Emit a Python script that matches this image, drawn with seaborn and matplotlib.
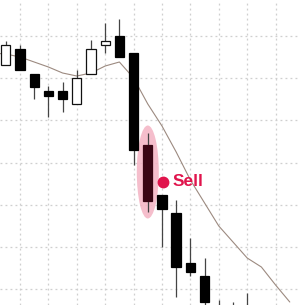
import matplotlib
matplotlib.use("Agg")
import matplotlib.pyplot as plt
from matplotlib.patches import Ellipse
import seaborn as sns
import pandas as pd
import numpy as np

# ---- data (price units, higher = up) ----
idx    = [0, 1, 2, 3, 4, 5, 6, 7, 8, 9, 10, 11, 12, 13, 14, 15, 16, 17, 18, 19]
opens  = [240, 256, 231, 214, 214, 201, 231, 260, 269, 252, 160, 110, 92, 42, 29, -2, -3, -5, -30, -50]
highs  = [264, 260, 231, 219, 223, 235, 265, 282, 286, 252, 172, 110, 105, 67, 47, 5, 3, 12, -20, -40]
lows   = [240, 235, 206, 188, 193, 201, 231, 252, 248, 140, 93, 58, 8, 29, 0, -25, -25, -35, -60, -80]
closes = [260, 235, 218, 209, 206, 227, 256, 264, 248, 155, 104, 96, 38, 33, 3, -20, -15, -30, -50, -70]

ma_x = [-1, 0, 1, 2, 3, 4, 5, 6, 7, 8, 9, 10, 11, 12, 13, 14, 15, 16, 17, 18, 19, 20]
ma_y = [252, 251, 248, 243, 238, 232, 229, 232, 239, 243, 227, 201, 179, 153, 125, 102, 79, 63, 47, 38, 20, 3]

sell_idx = 10
sell_label = "Sell"

sns.set_theme(style="white")
plt.rcParams['font.family'] = ['DejaVu Sans']

fig = plt.figure(figsize=(3.0, 3.05), dpi=100)
ax = fig.add_axes([0, 0, 1, 1])
ax.set_xlim(-0.408, 20.72)
ax.set_ylim(0, 305)

# grid
ax.set_xticks(np.arange(1, 21, 2))
ax.set_yticks(np.arange(16, 305, 42.15))
ax.grid(True, color="#cfcfcf", linestyle=(0, (1.5, 2.5)), linewidth=0.9)
ax.tick_params(left=False, bottom=False, labelleft=False, labelbottom=False)
for s in ax.spines.values():
    s.set_visible(False)

# highlight ellipse behind sell candle
ell = Ellipse((sell_idx, 133), width=1.55, height=93, facecolor="#f4b3c3",
              edgecolor="none", alpha=0.85, zorder=1)
ax.add_patch(ell)

# moving average
df_ma = pd.DataFrame({"x": ma_x, "y": ma_y})
sns.lineplot(data=df_ma, x="x", y="y", ax=ax, color="#9c8a80", linewidth=0.8, zorder=2)
ax.set_xlabel("")
ax.set_ylabel("")

# candles
w = 0.66
for i, o, h, l, c in zip(idx, opens, highs, lows, closes):
    ax.vlines(i, l, h, color="#444444", linewidth=0.9, zorder=3)
    bottom = min(o, c)
    height = abs(c - o)
    if c >= o:
        fc, ec = "white", "#111111"
    else:
        fc = "#3a0614" if i == sell_idx else "black"
        ec = fc
    ax.bar(i, height, bottom=bottom, width=w, color=fc, edgecolor=ec,
           linewidth=0.9, zorder=4)

# sell marker and label
ax.plot([sell_idx + 1.07], [123], marker="o", markersize=7.5, color="#e0144c",
        linestyle="none", zorder=5)
ax.text(sell_idx + 1.72, 123, sell_label, color="#e0144c", fontsize=12.5,
        fontweight="bold", family=["Liberation Sans", "DejaVu Sans"],
        va="center", ha="left", zorder=5)

fig.savefig("out.png", dpi=100)
